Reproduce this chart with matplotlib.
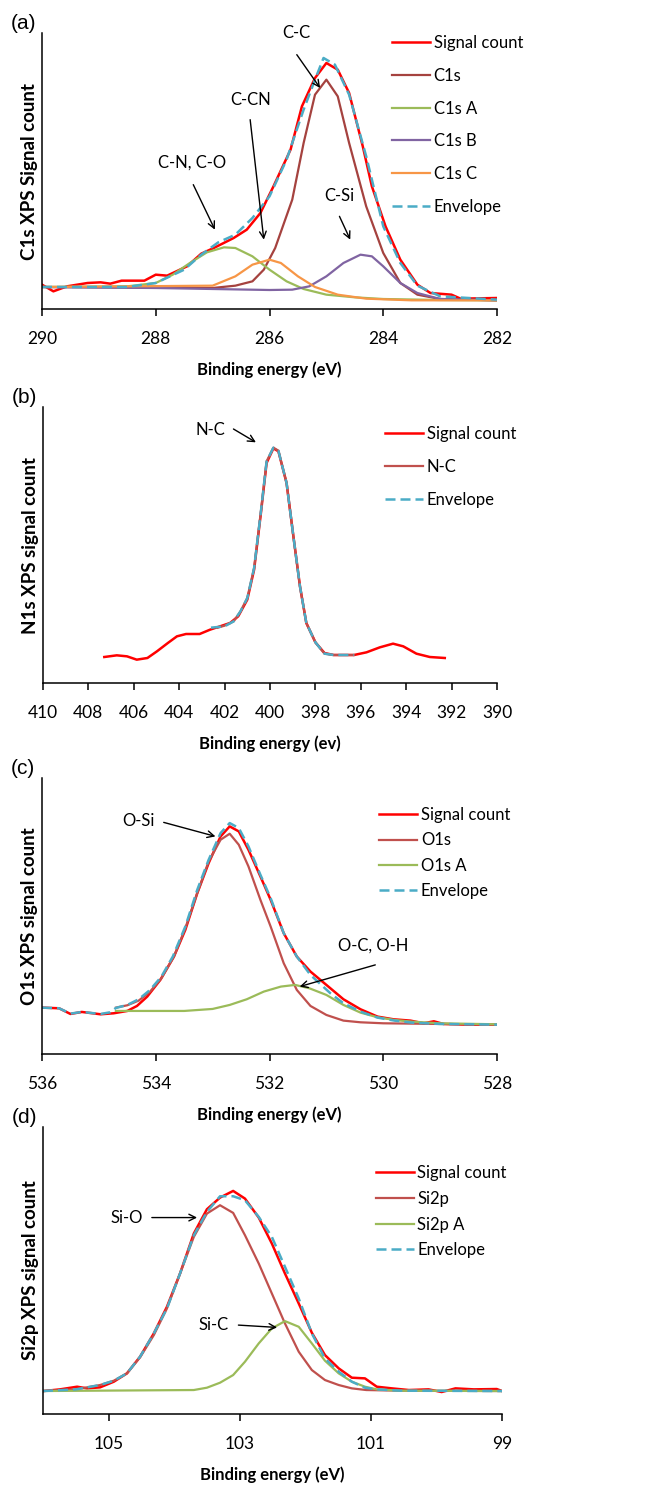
#!/usr/bin/env python3
# -*- coding: utf-8 -*-

"""
Fitted XPS core-level spectra: C1s, N1s, O1s and Si2p, four stacked panels.
"""

import matplotlib
matplotlib.use('Agg')
import matplotlib.pyplot as plt

# ---------------------------------------------------------------------------
# Spectra (binding energy in eV, signal in arbitrary counts).
# ---------------------------------------------------------------------------

# (a) C1s
c1s_sig_ev = [290.0, 289.8, 289.56, 289.2, 288.97, 288.8, 288.6, 288.2, 288.0,
              287.8, 287.45, 287.2, 286.98, 286.63, 286.4, 286.16, 285.93,
              285.63, 285.43, 285.2, 285.0, 284.8, 284.6, 284.36, 284.2,
              283.96, 283.7, 283.4, 283.17, 282.8, 282.64, 282.0]
c1s_sig = [73, 53, 68, 78, 80, 76, 85, 85, 103, 100, 128, 166, 183, 213, 238,
           288, 368, 478, 608, 693, 738, 718, 648, 488, 368, 248, 148, 73, 48,
           43, 31, 33]
c1s_env_ev = [290.0, 288.5, 288.0, 287.5, 287.2, 286.9, 286.6, 286.3, 286.0,
              285.7, 285.4, 285.2, 285.05, 284.85, 284.6, 284.3, 284.0, 283.7,
              283.4, 283.0, 282.0]
c1s_env = [66, 66, 78, 118, 163, 200, 223, 273, 338, 448, 598, 688, 753, 733,
           643, 458, 248, 138, 70, 38, 28]
c1s_main_ev = [290.0, 287.0, 286.6, 286.3, 286.1, 285.9, 285.6, 285.4, 285.2,
               285.0, 284.8, 284.6, 284.3, 284.0, 283.7, 283.4, 283.0, 282.0]
c1s_main = [66, 63, 70, 83, 118, 183, 328, 498, 643, 688, 638, 498, 308, 168,
            78, 43, 30, 26]
c1s_a_ev = [290.0, 288.5, 288.0, 287.7, 287.4, 287.1, 286.8, 286.6, 286.3,
            286.0, 285.7, 285.4, 285.0, 284.5, 284.0, 283.0, 282.0]
c1s_a = [66, 68, 78, 103, 138, 170, 185, 183, 158, 118, 83, 60, 43, 35, 30,
         27, 26]
c1s_b_ev = [290.0, 288.0, 287.0, 286.0, 285.6, 285.3, 285.0, 284.7, 284.4,
            284.2, 284.0, 283.7, 283.4, 283.0, 282.0]
c1s_b = [66, 63, 60, 57, 58, 68, 98, 138, 163, 158, 128, 78, 48, 30, 26]
c1s_c_ev = [290.0, 287.0, 286.6, 286.3, 286.0, 285.8, 285.5, 285.2, 284.8,
            284.3, 283.5, 282.0]
c1s_c = [66, 70, 98, 133, 148, 138, 98, 66, 43, 31, 26, 26]

# (b) N1s
n1s_sig_ev = [407.3, 406.75, 406.3, 405.87, 405.4, 404.98, 404.5, 404.1,
              403.7, 403.1, 402.64, 402.2, 401.76, 401.4, 401.0, 400.7, 400.4,
              400.15, 399.85, 399.63, 399.27, 398.97, 398.68, 398.4, 398.0,
              397.6, 397.2, 396.3, 395.75, 395.16, 394.58, 394.13, 393.55,
              392.96, 392.3]
n1s_sig = [78, 83, 80, 70, 75, 95, 120, 140, 147, 147, 160, 170, 180, 200,
           250, 340, 510, 660, 704, 695, 600, 440, 290, 180, 122, 90, 84, 84,
           92, 107, 118, 110, 88, 78, 75]
n1s_nc_ev = [402.3, 402.0, 401.6, 401.3, 401.0, 400.7, 400.4, 400.15, 399.85,
             399.63, 399.27, 398.97, 398.68, 398.4, 398.0, 397.6, 397.2, 396.3]
n1s_nc = [166, 172, 185, 215, 255, 345, 515, 665, 706, 697, 600, 440, 290,
          180, 122, 88, 84, 84]
n1s_env_ev = [402.6, 402.0, 401.6, 401.3, 401.0, 400.7, 400.4, 400.15,
              399.85, 399.63, 399.27, 398.97, 398.68, 398.4, 398.0, 397.6,
              397.2, 396.3]
n1s_env = [166, 170, 185, 215, 255, 345, 515, 665, 706, 697, 600, 440, 290,
           180, 122, 88, 84, 84]

# (c) O1s
o1s_sig_ev = [536.0, 535.7, 535.5, 535.3, 534.97, 534.74, 534.5, 534.33,
              534.15, 533.92, 533.68, 533.48, 533.27, 533.07, 532.86, 532.7,
              532.54, 532.37, 532.16, 531.98, 531.75, 531.52, 531.28, 530.93,
              530.7, 530.4, 530.1, 529.82, 529.52, 529.29, 529.11, 528.94,
              528.53, 528.0]
o1s_sig = [139, 137, 120, 126, 119, 122, 129, 144, 172, 222, 292, 372, 482,
           572, 652, 682, 667, 612, 532, 462, 362, 292, 247, 197, 164, 134,
           112, 104, 100, 92, 98, 90, 88, 88]
o1s_env_ev = [536.0, 535.7, 535.5, 535.3, 534.97, 534.8, 534.7, 534.5, 534.3,
              534.1, 533.9, 533.7, 533.48, 533.27, 533.07, 532.86, 532.7,
              532.54, 532.37, 532.16, 531.98, 531.75, 531.52, 531.28, 530.93,
              530.7, 530.4, 530.1, 529.8, 529.5, 529.0, 528.0]
o1s_env = [139, 137, 121, 126, 120, 125, 138, 147, 164, 192, 232, 292, 382,
           492, 582, 662, 692, 677, 622, 537, 467, 362, 292, 237, 182, 152,
           127, 109, 100, 94, 90, 88]
o1s_main_ev = [534.7, 534.5, 534.3, 534.1, 533.9, 533.68, 533.48, 533.27,
               533.07, 532.86, 532.7, 532.54, 532.37, 532.16, 531.98, 531.75,
               531.52, 531.28, 531.0, 530.7, 530.4, 530.0, 529.0, 528.0]
o1s_main = [139, 146, 160, 187, 227, 292, 377, 482, 577, 642, 660, 627, 562,
            462, 382, 272, 192, 144, 117, 100, 95, 92, 90, 88]
o1s_a_ev = [534.7, 534.0, 533.5, 533.0, 532.7, 532.4, 532.1, 531.8, 531.55,
            531.3, 531.0, 530.7, 530.4, 530.1, 529.8, 529.5, 529.0, 528.0]
o1s_a = [129, 129, 129, 135, 147, 164, 187, 202, 207, 197, 177, 147, 124, 110,
         102, 97, 92, 89]

# (d) Si2p
si2p_sig_ev = [105.99, 105.74, 105.48, 105.33, 105.13, 104.92, 104.72,
               104.52, 104.31, 104.11, 103.91, 103.70, 103.5, 103.3, 103.1,
               102.92, 102.71, 102.51, 102.31, 102.1, 101.9, 101.7, 101.49,
               101.29, 101.09, 100.91, 100.68, 100.42, 100.12, 99.92, 99.71,
               99.43, 99.08, 99.0]
si2p_sig = [69, 74, 82, 77, 80, 97, 122, 172, 242, 322, 422, 542, 615, 650,
            670, 647, 590, 512, 422, 332, 244, 177, 137, 109, 107, 82, 77, 72,
            74, 66, 77, 74, 75, 69]
si2p_env_ev = [106.0, 105.5, 105.13, 104.92, 104.72, 104.52, 104.31, 104.11,
               103.91, 103.70, 103.5, 103.3, 103.1, 102.92, 102.71, 102.51,
               102.31, 102.1, 101.9, 101.7, 101.49, 101.29, 101.09, 100.91,
               100.55, 99.0]
si2p_env = [69, 74, 87, 100, 122, 172, 242, 317, 422, 537, 607, 654, 654, 642,
            592, 532, 442, 347, 242, 167, 127, 97, 79, 74, 70, 69]
si2p_main_ev = [106.0, 105.5, 105.13, 104.92, 104.72, 104.52, 104.31, 104.11,
                103.91, 103.70, 103.5, 103.3, 103.1, 102.92, 102.71, 102.51,
                102.31, 102.1, 101.9, 101.7, 101.49, 101.29, 101.07, 100.55,
                99.0]
si2p_main = [69, 74, 87, 100, 122, 170, 237, 317, 422, 532, 602, 627, 604,
             537, 452, 362, 272, 187, 132, 102, 87, 77, 72, 70, 69]
si2p_a_ev = [106.0, 103.7, 103.5, 103.3, 103.1, 102.92, 102.71, 102.51,
             102.31, 102.1, 101.9, 101.7, 101.49, 101.29, 101.09, 100.91,
             100.55, 99.0]
si2p_a = [69, 72, 79, 94, 117, 157, 212, 257, 279, 262, 212, 160, 122, 97, 82,
          74, 70, 69]

# ---------------------------------------------------------------------------
# Styling.
# ---------------------------------------------------------------------------
RED = '#FF0000'
BROWN_DARK = '#A5423F'
BROWN = '#C0504D'
GREEN = '#9BBB59'
PURPLE = '#8064A2'
ORANGE = '#F79646'
AQUA = '#4BACC6'

FONT = ['Lato', 'DejaVu Sans']
plt.rcParams['font.family'] = FONT

W, H = 651, 1491
fig = plt.figure(figsize = (W / 100, H / 100), dpi = 100)


def make_axes(left, top, right, bottom):
    """Axes placed by pixel edges (top-left origin)."""
    return fig.add_axes([left / W, 1 - bottom / H, (right - left) / W,
                         (bottom - top) / H])


def style_axes(ax, xlim, ticks, ylim, xlabel, ylabel, tag):
    ax.set_xlim(*xlim)
    ax.set_ylim(*ylim)
    ax.set_xticks(ticks)
    ax.set_yticks([])
    for side in ('top', 'right'):
        ax.spines[side].set_visible(False)
    for side in ('left', 'bottom'):
        ax.spines[side].set_linewidth(1.1)
    ax.tick_params(axis = 'x', direction = 'out', length = 5, width = 1.1,
                   pad = 11, labelsize = 12.5)
    ax.set_xlabel(xlabel, fontsize = 12, fontweight = 'bold', labelpad = 10)
    ax.set_ylabel(ylabel, fontsize = 13.5, fontweight = 'bold', labelpad = 3)
    ax.text(-0.068, 1.0, tag, transform = ax.transAxes, fontsize = 15,
            family = ['Liberation Sans', 'DejaVu Sans'], ha = 'left',
            va = 'bottom')


def arrow(ax, tail, head):
    ax.annotate('', xy = head, xytext = tail,
                arrowprops = dict(arrowstyle = '->', color = 'black', lw = 1,
                                  mutation_scale = 12, shrinkA = 0,
                                  shrinkB = 0))


def note(ax, x, y, s):
    ax.text(x, y, s, fontsize = 12, ha = 'center', va = 'center')


def legend(ax, x, y, spacing):
    ax.legend(loc = 'upper left', bbox_to_anchor = (x, y), frameon = False,
              fontsize = 12, handlelength = 2.3, handletextpad = 0.2,
              labelspacing = spacing, borderpad = 0, borderaxespad = 0)


# ---------------------------------------------------------------------------
# (a) C1s
# ---------------------------------------------------------------------------
ax = make_axes(42, 33, 497, 309)
ax.plot(c1s_sig_ev, c1s_sig, color = RED, lw = 1.8, label = 'Signal count')
ax.plot(c1s_main_ev, c1s_main, color = BROWN_DARK, lw = 1.6, label = 'C1s')
ax.plot(c1s_a_ev, c1s_a, color = GREEN, lw = 1.6, label = 'C1s A')
ax.plot(c1s_b_ev, c1s_b, color = PURPLE, lw = 1.6, label = 'C1s B')
ax.plot(c1s_c_ev, c1s_c, color = ORANGE, lw = 1.6, label = 'C1s C')
ax.plot(c1s_env_ev, c1s_env, color = AQUA, lw = 1.8, ls = (0, (4, 2)),
        label = 'Envelope')
style_axes(ax, (290, 282), [290, 288, 286, 284, 282], (0, 828),
           'Binding energy (eV)', 'C1s XPS Signal count', '(a)')
note(ax, 285.52, 828, 'C-C')
arrow(ax, (285.52, 763), (285.11, 663))
note(ax, 286.34, 628, 'C-CN')
arrow(ax, (286.34, 568), (286.1, 208))
note(ax, 287.36, 438, 'C-N, C-O')
arrow(ax, (287.34, 373), (286.96, 238))
note(ax, 284.78, 338, 'C-Si')
arrow(ax, (284.77, 278), (284.58, 208))
legend(ax, 0.769, 0.992, 1.0)

# ---------------------------------------------------------------------------
# (b) N1s
# ---------------------------------------------------------------------------
ax = make_axes(43, 407, 497, 683)
ax.plot(n1s_sig_ev, n1s_sig, color = RED, lw = 1.8, label = 'Signal count')
ax.plot(n1s_nc_ev, n1s_nc, color = BROWN, lw = 1.6, label = 'N-C')
ax.plot(n1s_env_ev, n1s_env, color = AQUA, lw = 1.8, ls = (0, (4, 2)),
        label = 'Envelope')
style_axes(ax, (410, 390), list(range(410, 389, -2)), (0, 828),
           'Binding energy (ev)', 'N1s XPS signal count', '(b)')
note(ax, 402.64, 760, 'N-C')
arrow(ax, (401.61, 762), (400.62, 722))
legend(ax, 0.753, 0.93, 1.0)

# ---------------------------------------------------------------------------
# (c) O1s
# ---------------------------------------------------------------------------
ax = make_axes(42, 778, 497, 1054)
ax.plot(o1s_sig_ev, o1s_sig, color = RED, lw = 1.8, label = 'Signal count')
ax.plot(o1s_main_ev, o1s_main, color = BROWN, lw = 1.6, label = 'O1s')
ax.plot(o1s_a_ev, o1s_a, color = GREEN, lw = 1.6, label = 'O1s A')
ax.plot(o1s_env_ev, o1s_env, color = AQUA, lw = 1.8, ls = (0, (4, 2)),
        label = 'Envelope')
style_axes(ax, (536, 528), [536, 534, 532, 530, 528], (0, 827),
           'Binding energy (eV)', 'O1s XPS signal count', '(c)')
note(ax, 534.3, 697, 'O-Si')
arrow(ax, (533.86, 694), (532.95, 652))
note(ax, 530.17, 324, 'O-C, O-H')
arrow(ax, (530.14, 267), (531.47, 202))
legend(ax, 0.741, 0.894, 0.55)

# ---------------------------------------------------------------------------
# (d) Si2p
# ---------------------------------------------------------------------------
ax = make_axes(43, 1127, 502, 1414)
ax.plot(si2p_sig_ev, si2p_sig, color = RED, lw = 1.8, label = 'Signal count')
ax.plot(si2p_main_ev, si2p_main, color = BROWN, lw = 1.6, label = 'Si2p')
ax.plot(si2p_a_ev, si2p_a, color = GREEN, lw = 1.6, label = 'Si2p A')
ax.plot(si2p_env_ev, si2p_env, color = AQUA, lw = 1.8, ls = (0, (4, 2)),
        label = 'Envelope')
style_axes(ax, (106, 99), [105, 103, 101, 99], (0, 862),
           'Binding energy (eV)', 'Si2p XPS signal count', '(d)')
note(ax, 104.73, 590, 'Si-O')
arrow(ax, (104.34, 590), (103.65, 590))
note(ax, 103.4, 267, 'Si-C')
arrow(ax, (103.02, 267), (102.43, 260))
legend(ax, 0.725, 0.867, 0.58)

fig.savefig('out.png', dpi = 100)
